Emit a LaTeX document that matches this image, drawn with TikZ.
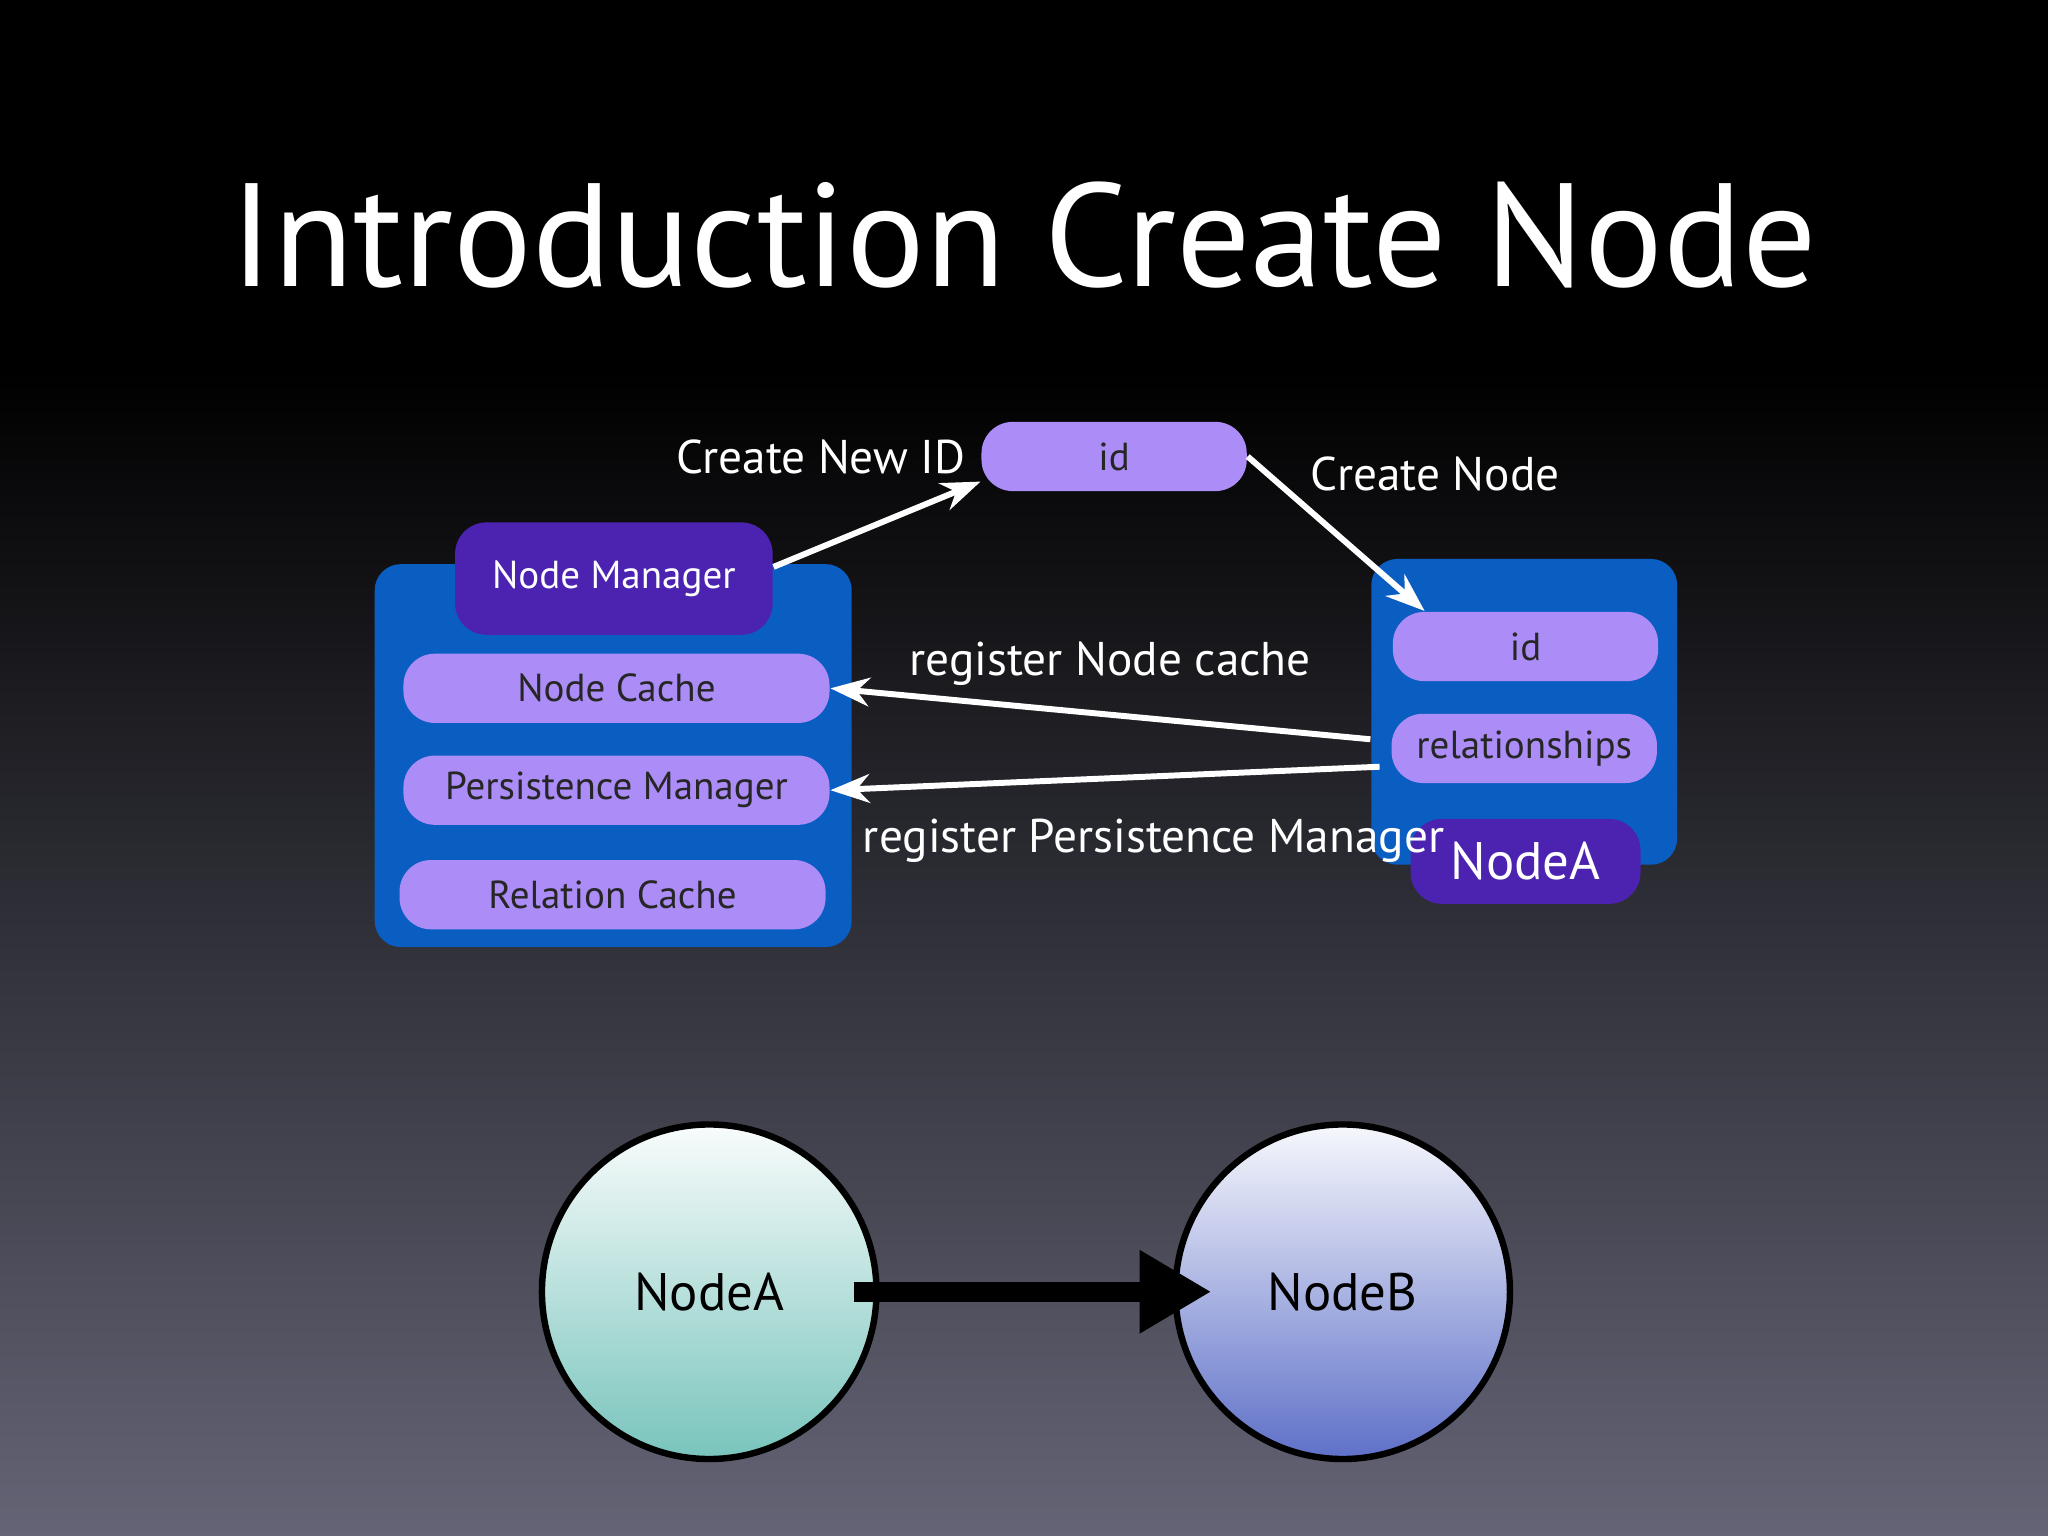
\documentclass[tikz,border=0pt]{standalone}
\usepackage{fontspec}
\setmainfont{PT Sans}
\usetikzlibrary{arrows.meta,calc}
\definecolor{cblue}{HTML}{0A5EC2}
\definecolor{dpur}{HTML}{4B23B0}
\definecolor{lpur}{HTML}{AC8CF6}
\definecolor{bot}{HTML}{646476}
\definecolor{teal2}{HTML}{78C4BC}
\definecolor{blue2}{HTML}{5E70C8}
\begin{document}
\begin{tikzpicture}[x=0.01cm,y=-0.01cm,
  cont/.style={fill=cblue,rounded corners=0.2cm,draw=none},
  light/.style={fill=lpur,rounded corners=0.24cm,text=black!85,font=\fontsize{8.5}{10}\selectfont,minimum width=3.26cm,minimum height=0.53cm,inner sep=0pt},
  dark/.style={fill=dpur,rounded corners=0.24cm,text=white,inner sep=0pt},
  lab/.style={text=white,font=\fontsize{10.3}{12}\selectfont},
  wa/.style={draw=white,line width=1.3pt,-{Stealth[length=0.3cm,width=0.22cm]}},
  circ/.style={circle,draw=black,line width=1.4pt,minimum size=2.56cm,font=\fontsize{11.5}{14}\selectfont,text=black}]
\useasboundingbox (0,0) rectangle (1568,1176);
\fill[black] (0,0) rectangle (1568,285);
\shade[top color=black,bottom color=bot] (0,284) rectangle (1568,1176);
\node[text=white,font=\fontsize{32}{38}\selectfont] (title) at (784,180) {Introduction Create Node};
% containers
\node[cont,minimum width=3.65cm,minimum height=2.93cm] (lc) at (469.5,578.5) {};
\node[cont,minimum width=2.34cm,minimum height=2.34cm] (rcn) at (1167,545) {};
\node[dark,minimum width=2.43cm,minimum height=0.86cm,font=\fontsize{8.5}{10}\selectfont] (nm) at (470,443) {Node Manager};
\node[light] (nc) at (472,527) {Node Cache};
\node[light] (pm) at (472,605) {Persistence Manager};
\node[light] (rc) at (469,685) {Relation Cache};
\node[light,minimum width=2.03cm] (idt) at (853,349.5) {id};
\node[light,minimum width=2.03cm] (rid) at (1168,495) {id};
\node[light,minimum width=2.03cm] (rel) at (1167,573) {relationships};
\node[dark,minimum width=1.76cm,minimum height=0.65cm,font=\fontsize{11.5}{14}\selectfont] (na) at (1168,659.5) {NodeA};
% labels
\node[lab,anchor=east,inner sep=0pt] (l1) at (740,350) {Create New ID};
\node[lab,anchor=west,inner sep=0pt] (l2) at (1003,363) {Create Node};
\node[lab] (l3) at (850,508) {register Node cache};
\node[lab,anchor=west,inner sep=0pt] (l4) at (660,644) {register Persistence Manager};
% arrows
\draw[wa] ([yshift=0.09cm]nm.east) -- ([yshift=0.08cm]idt.south west);
\draw[wa] (idt.east) -- ([xshift=0.25cm]rid.north west);
\draw[wa] ([yshift=-0.21cm]rcn.west) -- (nc.east);
\draw[wa] ([xshift=0.07cm,yshift=-0.42cm]rcn.west) -- (pm.east);
% circles
\node[circ,top color=white!95!teal2,bottom color=teal2] (ca) at (543,989) {NodeA};
\node[circ,top color=white!95!blue2,bottom color=blue2] (cb) at (1028,989) {NodeB};
\draw[line width=0.15cm,-{Triangle[length=0.55cm,width=0.6cm]}] ([xshift=-0.2cm]ca.east) -- ([xshift=0.3cm]cb.west);
\end{tikzpicture}
\end{document}
